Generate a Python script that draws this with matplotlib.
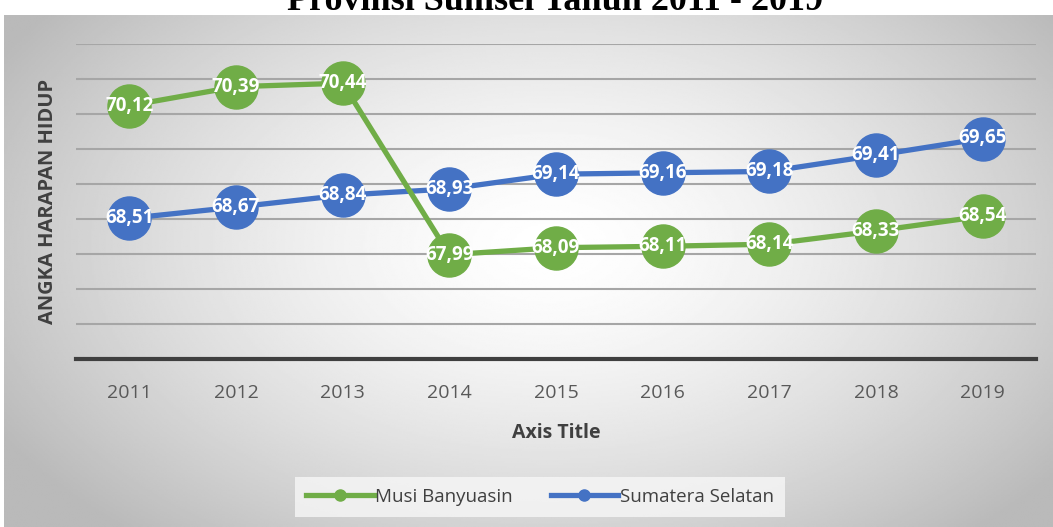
import numpy as np
import matplotlib.pyplot as plt
from matplotlib.lines import Line2D

years = ['2011', '2012', '2013', '2014', '2015', '2016', '2017', '2018', '2019']
musi_banyuasin = [70.12, 70.39, 70.44, 67.99, 68.09, 68.11, 68.14, 68.33, 68.54]
sumatera_selatan = [68.51, 68.67, 68.84, 68.93, 69.14, 69.16, 69.18, 69.41, 69.65]

green = '#70AD47'
blue = '#4472C4'
W, H = 1053, 527

plt.rcParams['font.family'] = ['Open Sans', 'DejaVu Sans']
fig = plt.figure(figsize=(W / 100, H / 100), dpi=100)
fig.patch.set_facecolor('white')

# title sits above the chart area, its upper part falls off the image
fig.text(555 / W, 1 - 10 / H, 'Provinsi Sumsel Tahun 2011 - 2019', ha='center',
         va='baseline', fontsize=26, fontweight='bold', family='Liberation Serif')

# radial grey-to-white background of the chart area
bg = fig.add_axes([4 / W, 0, 1 - 4 / W, 1 - 15 / H], zorder=-5)
yy, xx = np.mgrid[0:1:300j, 0:1:600j]
r = np.sqrt(((xx - 0.52) / 0.6) ** 2 + ((yy - 0.45) / 0.75) ** 2)
shade = 1.0 - 0.27 * np.clip(r, 0, 1) ** 1.5
bg.imshow(shade, cmap='gray', vmin=0, vmax=1, aspect='auto', extent=[0, 1, 0, 1])
bg.axis('off')

ax = fig.add_axes([76 / W, 1 - 359 / H, 960 / W, 315 / H])
ax.patch.set_alpha(0)
x = np.arange(len(years))

for vals, col in [(sumatera_selatan, blue), (musi_banyuasin, green)]:
    ax.plot(x, vals, color=col, lw=3.8, marker='o', markersize=31, zorder=3,
            solid_capstyle='round')
    for xi, v in zip(x, vals):
        ax.text(xi, v, f'{v:.2f}'.replace('.', ','), color='white', fontsize=13.5,
                fontweight='bold', ha='center', va='center', zorder=4)

ax.set_xlim(-0.5, len(years) - 0.5)
ax.set_ylim(66.5, 71.0)
ax.set_yticks(np.arange(66.5, 71.01, 0.5))
ax.yaxis.grid(True, color='#a6a6a6', lw=1.5)
ax.set_axisbelow(True)
ax.tick_params(axis='y', length=0, labelleft=False)
ax.set_xticks(x)
ax.set_xticklabels(years)
ax.tick_params(axis='x', length=0, pad=18, labelsize=14, labelcolor='#595959')
for s in ['top', 'right', 'left']:
    ax.spines[s].set_visible(False)
ax.spines['bottom'].set_color('#3f3f3f')
ax.spines['bottom'].set_linewidth(3)

ax.set_xlabel('Axis Title', fontsize=14, fontweight='bold', color='#404040', labelpad=15)
ax.set_ylabel('ANGKA HARAPAN HIDUP', fontsize=14.5, fontweight='bold', color='#404040')
ax.yaxis.set_label_coords(-18 / 960, 0.5)

handles = [Line2D([], [], color=green, lw=3.8, marker='o', markersize=8),
           Line2D([], [], color=blue, lw=3.8, marker='o', markersize=8)]
leg = fig.legend(handles, ['Musi Banyuasin', 'Sumatera Selatan'], loc='center',
                 bbox_to_anchor=(540 / W, 1 - 497 / H), ncol=2, frameon=True,
                 fontsize=13.5, handlelength=3.6, handletextpad=0.1, columnspacing=2.0,
                 borderpad=0.6, fancybox=False)
leg.get_frame().set_facecolor('#f7f7f7')
leg.get_frame().set_edgecolor('none')
for t in leg.get_texts():
    t.set_color('#404040')

fig.savefig('out.png', dpi=100)
